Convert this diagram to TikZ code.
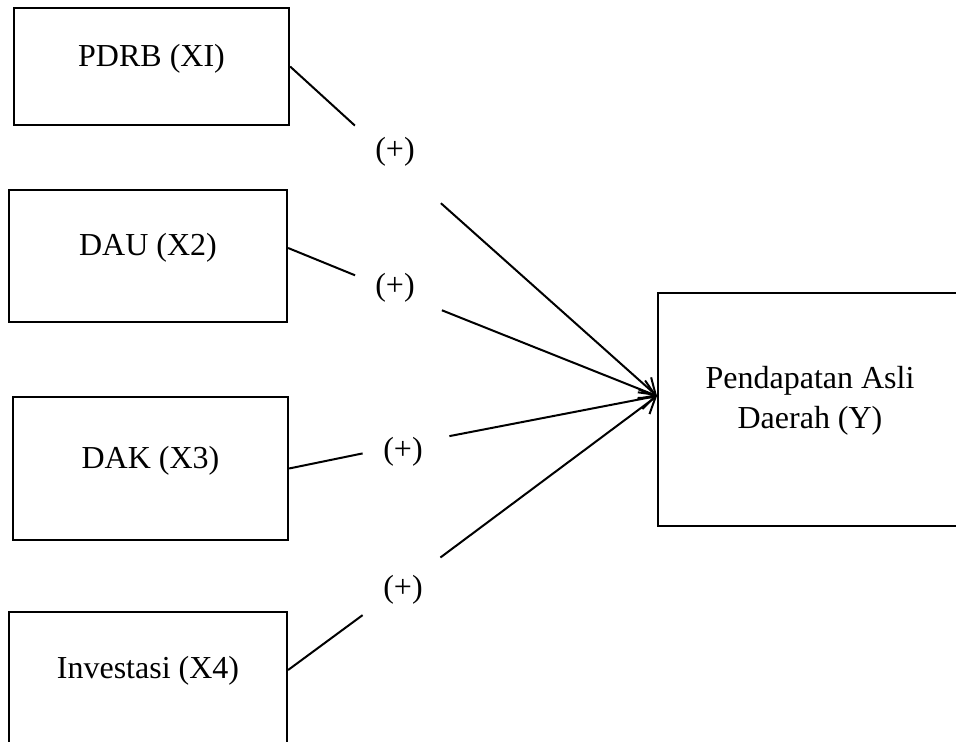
\documentclass[tikz,border=0pt]{standalone}
\usepackage{fontspec}
\setmainfont{Liberation Serif}
\usetikzlibrary{arrows.meta}

\begin{document}
\begin{tikzpicture}[x=0.5pt, y=-0.5pt,
    box/.style={draw, line width=1.1pt, text height=0pt, text depth=0pt, font=\fontsize{16}{20}\selectfont},
    gap/.style={minimum width=43pt, minimum height=38.5pt, inner sep=0pt},
    sign/.style={inner sep=0pt, font=\fontsize{16}{20}\selectfont},
    conn/.style={line width=1pt, -{Straight Barb[length=7.5pt, width=10pt]}}]

    \useasboundingbox (0,0) rectangle (956,742);

    % variabel bebas
    \node[box, minimum width=137.5pt, minimum height=58.5pt] (X1) at (151.5,66.5) {PDRB (XI)};
    \node[box, minimum width=139pt, minimum height=66pt] (X2) at (148,256) {DAU (X2)};
    \node[box, minimum width=137.5pt, minimum height=71.5pt] (X3) at (150.5,468.5) {DAK (X3)};
    \node[box, minimum width=139pt, minimum height=66pt] (X4) at (148,678) {Investasi (X4)};

    % variabel terikat
    \node[box, minimum width=152pt, minimum height=116.5pt, align=center, text height=18.5pt] (Y) at (810,409.5) {Pendapatan Asli\\Daerah (Y)};
    \coordinate (tip) at (657,396);

    % tanda hubungan
    \node[gap] (g1) at (397.5,164.5) {};
    \node[gap] (g2) at (398.5,293) {};
    \node[gap] (g3) at (406,444.5) {};
    \node[gap, minimum width=38.5pt] (g4) at (401.5,586.5) {};
    \node[sign] (s1) at (395,152) {(+)};
    \node[sign] (s2) at (395,288) {(+)};
    \node[sign] (s3) at (403,452) {(+)};
    \node[sign] (s4) at (403,590) {(+)};

    \draw[conn] (X1.east) -- (g1) -- (tip);
    \draw[conn] ([yshift=4pt]X2.east) -- (g2) -- (tip);
    \draw[conn] (X3.east) -- (g3) -- (tip);
    \draw[conn] ([yshift=4pt]X4.east) -- (g4) -- (tip);
\end{tikzpicture}
\end{document}
